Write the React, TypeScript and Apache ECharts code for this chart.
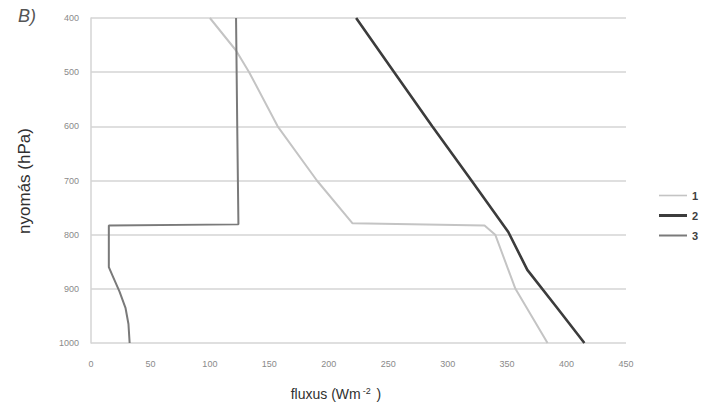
import React, { useEffect, useRef } from "react";
import * as echarts from "echarts";

// Pressure (hPa) / flux (W m^-2) pairs
const s1Flux = [100, 122, 133, 157, 190, 220, 331, 340, 357, 384];
const s1Pres = [400, 460, 500, 600, 700, 779, 783, 800, 900, 1000];

const s2Flux = [223, 255, 287, 320, 351, 367, 392, 415];
const s2Pres = [400, 500, 600, 700, 795, 865, 935, 1000];

const s3Flux = [122, 123, 124, 15, 15, 18, 24, 29, 31.5, 32.5];
const s3Pres = [400, 600, 781, 783, 860, 875, 905, 935, 965, 1000];

const seriesNames = ["1", "2", "3"];
const xTicks = { min: 0, max: 450, interval: 50 };
const yTicks = { min: 400, max: 1000, interval: 100 };

const pairs = (xs: number[], ys: number[]) => xs.map((x, i) => [x, ys[i]]);

export default function App() {
  const ref = useRef<HTMLDivElement>(null);
  useEffect(() => {
    if (!ref.current) return;
    const chart = echarts.init(ref.current, undefined, { renderer: "svg" });
    const axisLabel = {
      color: "#8a8a8a",
      fontSize: 9,
      fontFamily: "Liberation Sans",
      formatter: (v: number) => String(v),
    };
    chart.setOption({
      animation: false,
      backgroundColor: "#ffffff",
      grid: { left: 91, top: 18, width: 535, height: 325, containLabel: false },
      xAxis: {
        type: "value",
        min: xTicks.min,
        max: xTicks.max,
        interval: xTicks.interval,
        axisLine: { show: false },
        axisTick: { show: false },
        splitLine: { show: false },
        axisLabel: { ...axisLabel, margin: 16 },
      },
      yAxis: {
        type: "value",
        inverse: true,
        min: yTicks.min,
        max: yTicks.max,
        interval: yTicks.interval,
        axisLine: { show: true, lineStyle: { color: "#d4d4d4", width: 1.5 } },
        axisTick: { show: false },
        splitLine: { show: true, lineStyle: { color: "#d4d4d4", width: 1.5 } },
        axisLabel: { ...axisLabel, margin: 12 },
      },
      legend: {
        orient: "vertical",
        left: 654,
        top: 185,
        itemWidth: 28,
        itemHeight: 14,
        itemGap: 9,
        data: [
          { name: seriesNames[0], icon: "path://M0,0H28V1.6H0Z" },
          { name: seriesNames[1], icon: "path://M0,0H28V3H0Z" },
          { name: seriesNames[2], icon: "path://M0,0H28V2H0Z" },
        ],
        textStyle: { color: "#404040", fontSize: 11, fontWeight: "bold", fontFamily: "Liberation Sans" },
      },
      graphic: [
        {
          type: "text",
          left: 18,
          top: 7,
          style: { text: "B)", font: "italic 18px 'Liberation Sans'", fill: "#555555" },
        },
        {
          type: "text",
          x: 24,
          y: 181,
          rotation: Math.PI / 2,
          style: {
            text: "nyomás (hPa)",
            font: "17px 'Liberation Sans'",
            fill: "#303030",
            align: "center",
            verticalAlign: "middle",
          },
        },
        {
          type: "text",
          x: 336,
          y: 394,
          style: {
            text: "{a|fluxus (Wm}{s|-2}{a| )}",
            align: "center",
            verticalAlign: "middle",
            rich: {
              a: { font: "14px 'Liberation Sans'", fill: "#303030", color: "#303030" },
              s: { font: "9px 'Liberation Sans'", fill: "#303030", color: "#303030", verticalAlign: "top", padding: [0, 2, 6, 2] },
            },
          },
        },
      ],
      series: [
        {
          name: "1",
          type: "line",
          data: pairs(s1Flux, s1Pres),
          symbol: "none",
          lineStyle: { color: "#c4c4c4", width: 2 },
          itemStyle: { color: "#c4c4c4" },
        },
        {
          name: "2",
          type: "line",
          data: pairs(s2Flux, s2Pres),
          symbol: "none",
          lineStyle: { color: "#3c3c3c", width: 2.6 },
          itemStyle: { color: "#3c3c3c" },
        },
        {
          name: "3",
          type: "line",
          data: pairs(s3Flux, s3Pres),
          symbol: "none",
          lineStyle: { color: "#7a7a7a", width: 2 },
          itemStyle: { color: "#7a7a7a" },
        },
      ],
    });
    return () => chart.dispose();
  }, []);
  return (
    <div
      ref={ref}
      style={{ position: "fixed", left: 0, top: 0, width: 709, height: 411 }}
    />
  );
}
